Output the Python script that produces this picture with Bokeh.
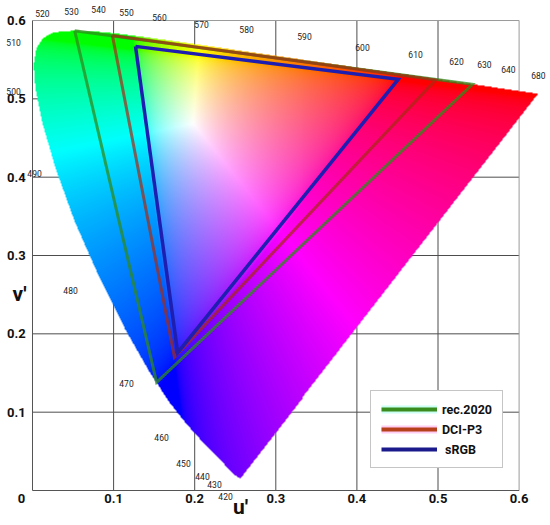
import numpy as np
from bokeh.plotting import figure
from bokeh.models import (ColumnDataSource, Legend, LegendItem, Range1d)
from bokeh.core.properties import value
from bokeh.embed import file_html
from bokeh.resources import INLINE

# ---------------- data ----------------
# CIE 1976 u'v' spectral locus (wavelength in nm)
wl = [380, 400, 410, 420, 430, 435, 440, 445, 450, 455, 460, 465, 470, 475, 480,
      485, 490, 495, 500, 505, 510, 515, 520, 525, 530, 535, 540, 545, 550, 555,
      560, 570, 580, 590, 600, 610, 620, 630, 640, 650, 660, 670, 680]
locus_u = [0.2568, 0.2557, 0.2545, 0.2522, 0.2461, 0.2411, 0.2347, 0.2266, 0.2161,
           0.2033, 0.1877, 0.1690, 0.1441, 0.1147, 0.0828, 0.0521, 0.0282, 0.0119,
           0.0035, 0.0014, 0.0046, 0.0123, 0.0231, 0.0360, 0.0501, 0.0643, 0.0792,
           0.0953, 0.1127, 0.1319, 0.1531, 0.2026, 0.2623, 0.3315, 0.4035, 0.4692,
           0.5203, 0.5565, 0.5830, 0.6005, 0.6109, 0.6180, 0.6234]
locus_v = [0.0166, 0.0159, 0.0159, 0.0169, 0.0226, 0.0279, 0.0350, 0.0437, 0.0549,
           0.0688, 0.0871, 0.1119, 0.1510, 0.2044, 0.2708, 0.3427, 0.4117, 0.4698,
           0.5131, 0.5432, 0.5638, 0.5770, 0.5837, 0.5861, 0.5868, 0.5865, 0.5856,
           0.5841, 0.5821, 0.5796, 0.5766, 0.5694, 0.5604, 0.5501, 0.5393, 0.5296,
           0.5219, 0.5165, 0.5125, 0.5099, 0.5084, 0.5073, 0.5065]

# wavelength annotations
wl_text = ["520", "530", "540", "550", "560", "570", "580", "590", "600", "610",
           "620", "630", "640", "680", "510", "500", "490", "480", "470", "460",
           "450", "440", "430", "420"]
wl_lab_u = [0.0123, 0.0481, 0.0814, 0.1159, 0.1566, 0.2084, 0.2639, 0.3354, 0.4069,
            0.4723, 0.5228, 0.5573, 0.5869, 0.6239, -0.0234, -0.0234, 0.0025,
            0.0469, 0.1159, 0.1591, 0.1862, 0.2096, 0.2244, 0.2380]
wl_lab_v = [0.6090, 0.6115, 0.6140, 0.6102, 0.6039, 0.5949, 0.5885, 0.5796, 0.5656,
            0.5566, 0.5477, 0.5439, 0.5375, 0.5298, 0.5719, 0.5094, 0.4047,
            0.2553, 0.1366, 0.0677, 0.0345, 0.0179, 0.0077, -0.0077]

# gamut primaries
rec2020_u = [0.0520, 0.5425, 0.1530]
rec2020_v = [0.5870, 0.5185, 0.1380]
p3_u = [0.0985, 0.4970, 0.1750]
p3_v = [0.5810, 0.5240, 0.1700]
srgb_u = [0.1270, 0.4510, 0.1790]
srgb_v = [0.5670, 0.5250, 0.1760]

grid_ticks = [0.1, 0.2, 0.3, 0.4, 0.5, 0.6]
tick_labels = ["0.1", "0.2", "0.3", "0.4", "0.5", "0.6"]

# ---------------- figure (frame covers whole canvas) ----------------
W, H = 548, 522
U0, U1 = -0.03946, 0.63625
V0, V1 = -0.04085, 0.62556
p = figure(width=W, height=H, output_backend="svg", toolbar_location=None,
           x_range=Range1d(U0, U1), y_range=Range1d(V0, V1),
           min_border=0, x_axis_type=None, y_axis_type=None)
p.outline_line_color = None
p.grid.visible = False
p.background_fill_color = "white"

# grid lines / frame
inner = grid_ticks[:-1]
p.segment(x0=inner, y0=[0] * len(inner), x1=inner, y1=[0.6] * len(inner),
          line_color="#4d4d4d", line_width=1)
p.segment(x0=[0] * len(inner), y0=inner, x1=[0.6] * len(inner), y1=inner,
          line_color="#4d4d4d", line_width=1)
p.segment(x0=[0.6, 0], y0=[0, 0.6], x1=[0.6, 0.6], y1=[0.6, 0.6],
          line_color="#9a9a9a", line_width=1)
p.segment(x0=[0, 0], y0=[0, 0], x1=[0, 0.6], y1=[0.6, 0],
          line_color="#555555", line_width=1)

# ---------------- chromaticity colour fill ----------------
nx, ny = 520, 480
IMG_U, IMG_V = 0.64, 0.6128
uu = (np.arange(nx) + 0.5) / nx * IMG_U
vv = (np.arange(ny) + 0.5) / ny * IMG_V
U, V = np.meshgrid(uu, vv)
den = 6 * U - 16 * V + 12
cx = 9 * U / den
cy = np.maximum(4 * V / den, 1e-6)
X = cx / cy
Yc = np.ones_like(X)
Z = (1 - cx - cy) / cy
r = 3.2406 * X - 1.5372 * Yc - 0.4986 * Z
g = -0.9689 * X + 1.8758 * Yc + 0.0415 * Z
b = 0.0557 * X - 0.2040 * Yc + 1.0570 * Z
rgb = np.clip(np.stack([r, g, b], axis=-1), 0, None)
rgb = rgb / np.maximum(rgb.max(axis=-1, keepdims=True), 1e-9)
rgb = np.where(rgb <= 0.0031308, 12.92 * rgb, 1.055 * rgb ** (1 / 2.4) - 0.055)


def inside(px, py, polx, poly):
    res = np.zeros(px.shape, dtype=bool)
    n = len(polx)
    j = n - 1
    with np.errstate(divide="ignore", invalid="ignore"):
        for i in range(n):
            xi, yi, xj, yj = polx[i], poly[i], polx[j], poly[j]
            if yj != yi:
                c = ((yi > py) != (yj > py)) & (px < (xj - xi) * (py - yi) / (yj - yi) + xi)
                res ^= c
            j = i
    return res


mask = inside(U, V, locus_u, locus_v)
img = np.zeros((ny, nx), dtype=np.uint32)
view = img.view(dtype=np.uint8).reshape((ny, nx, 4))
view[..., 0] = (rgb[..., 0] * 255).astype(np.uint8)
view[..., 1] = (rgb[..., 1] * 255).astype(np.uint8)
view[..., 2] = (rgb[..., 2] * 255).astype(np.uint8)
view[..., 3] = np.where(mask, 255, 0).astype(np.uint8)
p.image_rgba(image=[img], x=0, y=0, dw=IMG_U, dh=IMG_V)

# ---------------- gamut triangles ----------------
p.line(rec2020_u + rec2020_u[:1], rec2020_v + rec2020_v[:1],
       line_color="#2f8a1c", line_alpha=0.75, line_width=3, line_join="miter")
p.line(p3_u + p3_u[:1], p3_v + p3_v[:1],
       line_color="#a82a12", line_alpha=0.7, line_width=3, line_join="miter")
p.line(srgb_u + srgb_u[:1], srgb_v + srgb_v[:1],
       line_color="#1e1eb0", line_width=3.5, line_join="miter")

# legend-only renderers (data lies outside the visible ranges)
off_u = [U0 - 1, U0 - 0.9]
off_v = [V0 - 1, V0 - 0.9]
halo_g = p.line(off_u, off_v, line_color="#ccfff4", line_width=8)
halo_p = p.line(off_u, off_v, line_color="#ffcdf3", line_width=8)
leg_g = p.line(off_u, off_v, line_color="#3a8c1e", line_width=4)
leg_p = p.line(off_u, off_v, line_color="#b5401a", line_width=4)
leg_b = p.line(off_u, off_v, line_color="#1a1a8c", line_width=4)

legend = Legend(items=[
    LegendItem(label="rec.2020", renderers=[halo_g, leg_g]),
    LegendItem(label="DCI-P3", renderers=[halo_p, leg_p]),
    LegendItem(label=" sRGB", renderers=[leg_b]),
], location=(370, 54))
legend.border_line_color = "#8c8c8c"
legend.border_line_width = 1
legend.background_fill_color = "white"
legend.background_fill_alpha = 1
legend.padding = 10
legend.spacing = 4
legend.margin = 0
legend.glyph_width = 56
legend.glyph_height = 16
legend.label_height = 16
legend.label_standoff = 5
legend.label_text_font = "Roboto"
legend.label_text_font_style = "bold"
legend.label_text_font_size = "12.5px"
legend.label_text_color = "#111111"
p.add_layout(legend, "center")

# ---------------- text ----------------
p.text(x=grid_ticks, y=[-0.0105] * len(grid_ticks), text=tick_labels,
       text_font=value("Roboto"), text_font_style="bold", text_font_size="13px",
       text_color="#111111", text_align="center", text_baseline="middle")
p.text(x=[-0.0085] * len(grid_ticks), y=grid_ticks, text=tick_labels,
       text_font=value("Roboto"), text_font_style="bold", text_font_size="13px",
       text_color="#111111", text_align="right", text_baseline="middle")
p.text(x=[-0.0136], y=[-0.0105], text=["0"],
       text_font=value("Roboto"), text_font_style="bold", text_font_size="13px",
       text_color="#111111", text_align="center", text_baseline="middle")

src = ColumnDataSource(data=dict(u=wl_lab_u, v=wl_lab_v, t=wl_text))
p.text(x="u", y="v", text="t", source=src, text_font=value("Roboto"),
       text_font_size="8.5px", text_color="#222222",
       text_align="center", text_baseline="middle")

p.text(x=[0.2565], y=[-0.021], text=["u′"], text_font=value("Roboto"),
       text_font_style="bold", text_font_size="21px", text_color="#111111",
       text_align="center", text_baseline="middle")
p.text(x=[-0.016], y=[0.2515], text=["v′"], text_font=value("Roboto"),
       text_font_style="bold", text_font_size="21px", text_color="#111111",
       text_align="center", text_baseline="middle")

open("out.html", "w").write(file_html(p, INLINE))
